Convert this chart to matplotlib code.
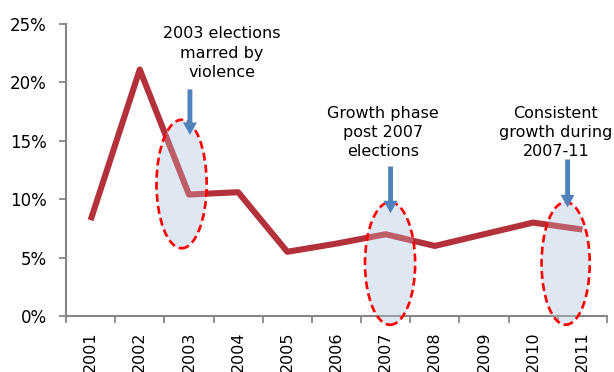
import matplotlib.pyplot as plt
from matplotlib.patches import Ellipse
import numpy as np

plt.rcParams['hatch.color'] = '#8FA9D3'
plt.rcParams['hatch.linewidth'] = 0.9

years = ['2001', '2002', '2003', '2004', '2005', '2006', '2007', '2008', '2009', '2010', '2011']
growth = [0.082, 0.211, 0.104, 0.106, 0.055, 0.062, 0.070, 0.060, 0.070, 0.080, 0.074]

# annotations: text, text position, arrow tail/tip, ellipse centre and size
notes = ['2003 elections\nmarred by\nviolence',
         'Growth phase\npost 2007\nelections',
         'Consistent\ngrowth during\n2007-11']
note_xy = [(2.67, 0.225), (5.94, 0.157), (9.46, 0.157)]
arrow_x = [2.02, 6.10, 9.70]
arrow_top = [0.194, 0.128, 0.134]
arrow_tip = [0.155, 0.088, 0.093]
ell_xy = [(1.85, 0.113), (6.09, 0.045), (9.66, 0.045)]
ell_w = [1.02, 1.02, 0.98]
ell_h = [0.110, 0.105, 0.105]

fig = plt.figure(figsize=(6.14, 3.72), dpi=100)
ax = fig.add_axes([0.1075, 0.1505, 0.881, 0.785])

x = np.arange(len(years))
ax.plot(x, growth, color='#B3313A', lw=4.4, solid_capstyle='butt', zorder=2)

for (cx, cy), w, h in zip(ell_xy, ell_w, ell_h):
    # pale base under the line, dotted pattern and a light wash on top
    ax.add_patch(Ellipse((cx, cy), w, h, facecolor='#E2E9F4', edgecolor='none',
                         zorder=1, clip_on=False))
    try:
        hp = Ellipse((cx, cy), w, h, facecolor=(0.85, 0.89, 0.95, 0.25), edgecolor='none',
                     hatch='....', hatchcolor='#8FA9D3', zorder=3, clip_on=False)
    except Exception:
        hp = Ellipse((cx, cy), w, h, facecolor=(0.85, 0.89, 0.95, 0.25), edgecolor='none',
                     hatch='....', zorder=3, clip_on=False)
    ax.add_patch(hp)
    ax.add_patch(Ellipse((cx, cy), w, h, facecolor='none', edgecolor='#FF0000',
                         lw=1.9, ls=(0, (3, 1.6)), zorder=4, clip_on=False))

for xa, yt, yp in zip(arrow_x, arrow_top, arrow_tip):
    ax.annotate('', xy=(xa, yp), xytext=(xa, yt),
                arrowprops=dict(facecolor='#4F81BD', edgecolor='none', width=3.5,
                                headwidth=10, headlength=9, shrink=0), zorder=5)

for t, (tx, ty) in zip(notes, note_xy):
    ax.text(tx, ty, t, ha='center', va='center', fontsize=11.5, linespacing=1.35)

ax.set_xlim(-0.5, len(years) - 0.5)
ax.set_ylim(0, 0.25)
ax.set_yticks([0, 0.05, 0.10, 0.15, 0.20, 0.25])
ax.set_yticklabels(['0%', '5%', '10%', '15%', '20%', '25%'], fontsize=12)
ax.set_xticks(np.arange(len(years) + 1) - 0.5, minor=False)
ax.set_xticklabels([])
ax.set_xticks(x, minor=True)
ax.set_xticklabels(years, minor=True, rotation=90, fontsize=11.5, va='top')
ax.tick_params(axis='x', which='minor', length=0, pad=11)
ax.tick_params(axis='x', which='major', length=5, color='#868686', width=1.3)
ax.tick_params(axis='y', length=5, color='#868686', width=1.3, pad=9)

for s in ['top', 'right']:
    ax.spines[s].set_visible(False)
for s in ['left', 'bottom']:
    ax.spines[s].set_color('#868686')
    ax.spines[s].set_linewidth(1.5)

fig.savefig('out.png', dpi=100)
